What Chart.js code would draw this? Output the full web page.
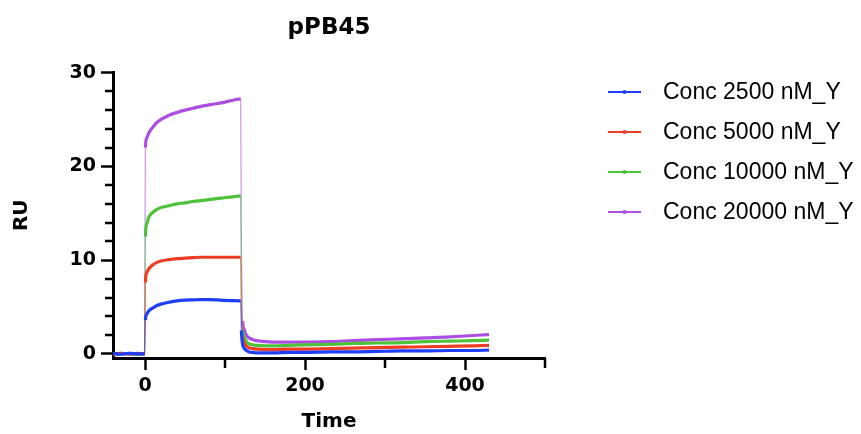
<!DOCTYPE html>
<html>
<head>
<meta charset="utf-8">
<title>pPB45</title>
<script src="https://cdn.jsdelivr.net/npm/chart.js@4.4.1/dist/chart.umd.min.js"></script>
<style>
  html, body { margin: 0; padding: 0; background: #fff; }
  canvas { background: #fff; }
</style>
</head>
<body>
<canvas id="chart" width="861" height="434"></canvas>
<script>
// time points (s), shared by all four curves
const times = [-40, -30, -20, -10, -0.5, 0.5, 2, 5, 10, 15, 20, 30, 40, 50, 60, 70, 80, 90, 100, 110, 119.5,
  120.5, 122, 124, 126, 128, 130, 135, 140, 150, 160, 180, 200, 230, 260, 290, 320, 350, 380, 410, 430];

const conc2500 = [0.05, -0.05, 0.05, 0, 0, 3.6, 4.2, 4.6, 4.9, 5.15, 5.3, 5.5, 5.65, 5.72, 5.75, 5.78, 5.78, 5.75, 5.7, 5.68, 5.65,
  2.5, 1.0, 0.6, 0.4, 0.3, 0.2, 0.15, 0.1, 0.1, 0.1, 0.15, 0.15, 0.2, 0.2, 0.25, 0.3, 0.3, 0.35, 0.35, 0.4];
const conc5000 = [-0.05, 0.05, -0.05, 0.05, 0, 7.6, 8.6, 9.1, 9.5, 9.75, 9.9, 10.05, 10.15, 10.2, 10.25, 10.3, 10.3, 10.3, 10.3, 10.3, 10.3,
  4.5, 1.8, 1.2, 0.9, 0.75, 0.65, 0.55, 0.5, 0.45, 0.45, 0.5, 0.5, 0.55, 0.6, 0.65, 0.7, 0.75, 0.8, 0.85, 0.9];
const conc10000 = [0, 0.05, 0, -0.05, 0, 12.5, 13.8, 14.6, 15.1, 15.4, 15.6, 15.8, 16.0, 16.1, 16.25, 16.35, 16.45, 16.55, 16.65, 16.75, 16.85,
  7.0, 2.5, 1.8, 1.4, 1.2, 1.05, 0.95, 0.9, 0.85, 0.85, 0.9, 0.95, 1.0, 1.1, 1.15, 1.2, 1.3, 1.35, 1.4, 1.45];
const conc20000 = [0, -0.05, 0.05, 0, 0, 22.0, 23.0, 23.6, 24.2, 24.7, 25.0, 25.45, 25.75, 26.0, 26.2, 26.4, 26.55, 26.7, 26.85, 27.05, 27.2,
  12.0, 3.5, 2.6, 2.1, 1.85, 1.7, 1.5, 1.4, 1.3, 1.25, 1.25, 1.25, 1.3, 1.4, 1.5, 1.6, 1.7, 1.8, 1.95, 2.05];

const seriesNames = ['Conc 2500 nM_Y', 'Conc 5000 nM_Y', 'Conc 10000 nM_Y', 'Conc 20000 nM_Y'];
const seriesValues = [conc2500, conc5000, conc10000, conc20000];
const colors = ['#1d3ff7', '#ee3d24', '#4fc23c', '#ac4ee2'];
const lightColors = ['rgba(29,63,247,0.55)', 'rgba(238,61,36,0.55)', 'rgba(79,194,60,0.55)', 'rgba(172,78,226,0.55)'];

const xTicks = [0, 200, 400];
const xMinor = [100, 300, 500];
const yTicks = [0, 10, 20, 30];
const yMinor = [2, 4, 6, 8, 12, 14, 16, 18, 22, 24, 26, 28];

const boldFont = { family: 'DejaVu Sans', size: 19, weight: 'bold' };

// near-vertical jumps are drawn thin and pale like in the original
function steep(ctx) {
  const dx = Math.abs(ctx.p1.x - ctx.p0.x);
  const dy = Math.abs(ctx.p1.y - ctx.p0.y);
  return dy > 25 && dy > 5 * dx;
}

// shorter unlabelled ticks
const minorTicks = {
  id: 'minorTicks',
  afterDraw(chart) {
    const { ctx, chartArea, scales } = chart;
    ctx.save();
    ctx.strokeStyle = '#000';
    ctx.lineWidth = 2.5;
    ctx.beginPath();
    yMinor.forEach(v => {
      const py = Math.round(scales.y.getPixelForValue(v));
      ctx.moveTo(chartArea.left - 8, py);
      ctx.lineTo(chartArea.left, py);
    });
    xMinor.forEach(v => {
      const px = Math.round(scales.x.getPixelForValue(v));
      ctx.moveTo(px, chartArea.bottom);
      ctx.lineTo(px, chartArea.bottom + 10);
    });
    ctx.stroke();
    ctx.restore();
  }
};

// legend on the right: short line with a dot, then the dataset label
const sideLegend = {
  id: 'sideLegend',
  afterDraw(chart) {
    const { ctx } = chart;
    ctx.save();
    ctx.font = '23px "Liberation Sans", Arial, sans-serif';
    ctx.textBaseline = 'middle';
    ctx.textAlign = 'left';
    chart.data.datasets.forEach((ds, i) => {
      const y = 92 + i * 40;
      ctx.strokeStyle = ds.borderColor;
      ctx.lineWidth = 2;
      ctx.beginPath();
      ctx.moveTo(608, y);
      ctx.lineTo(641, y);
      ctx.stroke();
      ctx.fillStyle = ds.borderColor;
      ctx.beginPath();
      ctx.arc(624.5, y, 2, 0, Math.PI * 2);
      ctx.fill();
      ctx.fillStyle = '#000';
      ctx.fillText(ds.label, 663, y + 1);
    });
    ctx.restore();
  }
};

const datasets = seriesNames.map((name, i) => ({
  label: name,
  data: times.map((t, k) => ({ x: t, y: seriesValues[i][k] })),
  borderColor: colors[i],
  backgroundColor: colors[i],
  borderWidth: 3.2,
  pointRadius: 0,
  fill: false,
  cubicInterpolationMode: 'monotone',
  segment: {
    borderWidth: ctx => steep(ctx) ? 1.3 : 3.2,
    borderColor: ctx => steep(ctx) ? lightColors[i] : colors[i]
  }
}));

new Chart(document.getElementById('chart'), {
  type: 'line',
  data: { datasets },
  plugins: [minorTicks, sideLegend],
  options: {
    responsive: false,
    animation: false,
    layout: { padding: { left: 10, right: 316, top: 0, bottom: 0 } },
    plugins: {
      title: {
        display: true,
        text: 'pPB45',
        fullSize: false,
        color: '#000',
        font: { family: 'DejaVu Sans', size: 23, weight: 'bold' },
        padding: { top: 14, bottom: 31 }
      },
      legend: { display: false },
      tooltip: { enabled: false }
    },
    scales: {
      x: {
        type: 'linear',
        min: -40,
        max: 500,
        afterBuildTicks(scale) { scale.ticks = xTicks.map(v => ({ value: v })); },
        afterFit(scale) { scale.height = 76; },
        ticks: { color: '#000', font: boldFont, padding: 5, maxRotation: 0, autoSkip: false },
        grid: { drawOnChartArea: false, tickLength: 12, tickWidth: 2.5, tickColor: '#000' },
        border: { color: '#000', width: 3 },
        title: { display: true, text: 'Time', color: '#000', font: { family: 'DejaVu Sans', size: 20, weight: 'bold' }, padding: 0 }
      },
      y: {
        type: 'linear',
        min: -0.45,
        max: 30,
        afterBuildTicks(scale) { scale.ticks = yTicks.map(v => ({ value: v })); },
        afterFit(scale) { scale.width = 103; },
        ticks: { color: '#000', font: boldFont, padding: 5 },
        grid: { drawOnChartArea: false, tickLength: 12, tickWidth: 2.5, tickColor: '#000' },
        border: { color: '#000', width: 3 },
        title: { display: true, text: 'RU', color: '#000', font: { family: 'DejaVu Sans', size: 20, weight: 'bold' }, padding: 0 }
      }
    }
  }
});
</script>
</body>
</html>
